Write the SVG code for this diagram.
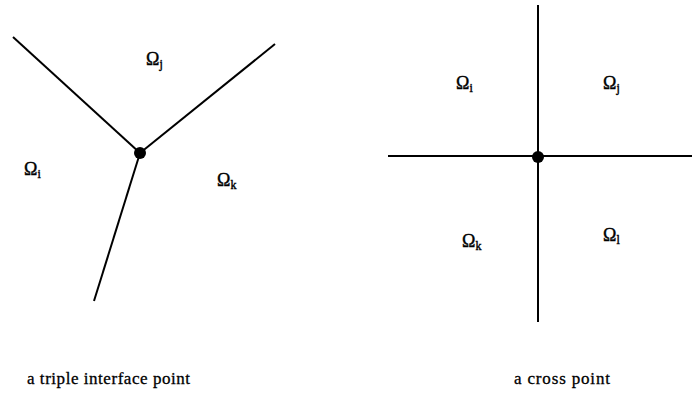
<svg xmlns="http://www.w3.org/2000/svg" width="692" height="395" viewBox="0 0 692 395">
<style>
.ln{stroke:#000;stroke-width:2;fill:none}
.om{font-size:18px;fill:#000;stroke:#000;stroke-width:0.4}
.sb{font-size:12px}
.cap{font-size:17px;fill:#000;stroke:#000;stroke-width:0.3}
</style>
<rect width="692" height="395" fill="#fff"/>
<g id="connectors">
<line class="ln" x1="13" y1="37" x2="140" y2="153"/>
<line class="ln" x1="275" y1="44" x2="140" y2="153"/>
<line class="ln" x1="140" y1="153" x2="94" y2="301"/>
<line class="ln" x1="538" y1="5" x2="538" y2="322"/>
<line class="ln" x1="388" y1="156" x2="692" y2="156"/>
</g>
<g id="triple-point"><circle cx="140" cy="153" r="6" fill="#000"/></g>
<g id="cross-point"><circle cx="538" cy="157" r="6" fill="#000"/></g>
<g font-family="'Liberation Serif', 'Times New Roman', serif">
<g id="left-labels">
<text class="om" x="146" y="65">Ω<tspan class="sb" dy="3">j</tspan></text>
<text class="om" x="24" y="175">Ω<tspan class="sb" dy="3">i</tspan></text>
<text class="om" x="217" y="186">Ω<tspan class="sb" dy="3">k</tspan></text>
</g>
<g id="right-labels">
<text class="om" x="456" y="89">Ω<tspan class="sb" dy="3">i</tspan></text>
<text class="om" x="603" y="89">Ω<tspan class="sb" dy="3">j</tspan></text>
<text class="om" x="462" y="247">Ω<tspan class="sb" dy="3">k</tspan></text>
<text class="om" x="603" y="241">Ω<tspan class="sb" dy="3">l</tspan></text>
</g>
<text class="cap" x="27" y="384" textLength="163">a triple interface point</text>
<text class="cap" x="514" y="384" textLength="96">a cross point</text>
</g>
</svg>
